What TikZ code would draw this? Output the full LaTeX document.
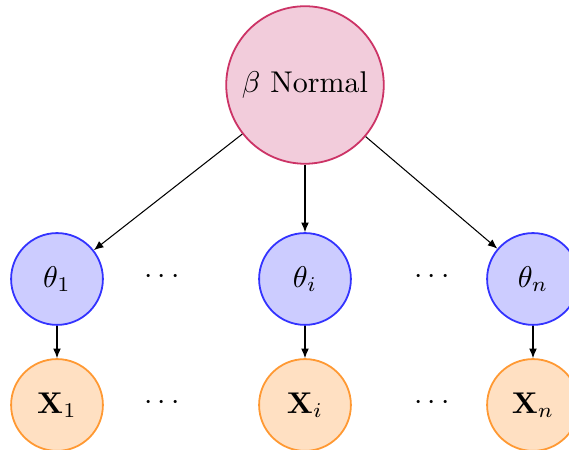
\documentclass[tikz,border=0pt]{standalone}
\usetikzlibrary{arrows.meta}
\definecolor{betafill}{RGB}{242,204,219}
\definecolor{betadraw}{RGB}{204,51,102}
\definecolor{thetafill}{RGB}{204,204,255}
\definecolor{thetadraw}{RGB}{51,51,255}
\definecolor{xfill}{RGB}{255,224,194}
\definecolor{xdraw}{RGB}{255,153,51}
\begin{document}
\begin{tikzpicture}[x=0.3333pt,y=-0.3333pt,
  betanode/.style={circle,draw=betadraw,fill=betafill,line width=0.6pt,minimum size=52.5pt,inner sep=0pt},
  thetanode/.style={circle,draw=thetadraw,fill=thetafill,line width=0.6pt,minimum size=30.6pt,inner sep=0pt},
  xnode/.style={circle,draw=xdraw,fill=xfill,line width=0.6pt,minimum size=30.6pt,inner sep=0pt},
  dotsnode/.style={inner sep=0pt},
  edge/.style={-{Latex[length=3.2pt,width=2.6pt]},line width=0.35pt}]
\clip (0,0) rectangle (569,450);
\useasboundingbox (0,0) rectangle (569,450);
\node[betanode] (beta) at (305,85) {$\beta$ Normal};
\node[thetanode] (t1) at (57,279) {$\theta_1$};
\node[thetanode] (ti) at (305,279) {$\theta_i$};
\node[thetanode] (tn) at (533,279) {$\theta_n$};
\node[xnode] (x1) at (57,405) {$\mathbf{X}_1$};
\node[xnode] (xi) at (305,405) {$\mathbf{X}_i$};
\node[xnode] (xn) at (533,405) {$\mathbf{X}_n$};
\node[dotsnode] (d1) at (162,277) {$\cdots$};
\node[dotsnode] (d2) at (432,277) {$\cdots$};
\node[dotsnode] (d3) at (162,403) {$\cdots$};
\node[dotsnode] (d4) at (432,403) {$\cdots$};
\draw[edge] (beta) -- (t1);
\draw[edge] (beta) -- (ti);
\draw[edge] (beta) -- (tn);
\draw[edge] (t1) -- (x1);
\draw[edge] (ti) -- (xi);
\draw[edge] (tn) -- (xn);
\end{tikzpicture}
\end{document}
